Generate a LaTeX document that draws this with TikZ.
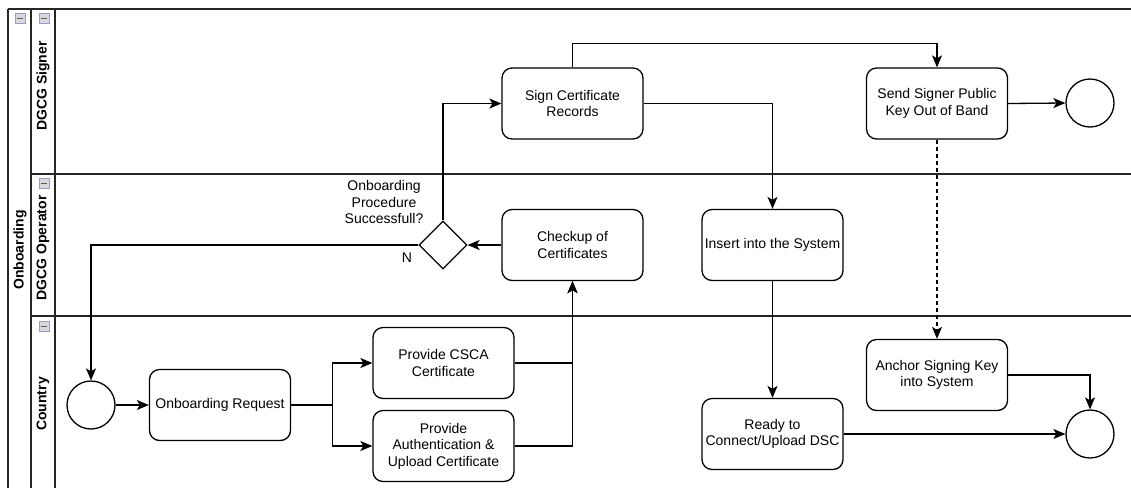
\documentclass[tikz,border=0pt]{standalone}
\usepackage{fontspec}
\setmainfont{Liberation Sans}
\usetikzlibrary{arrows.meta,shapes.geometric,calc}

\begin{document}
\begin{tikzpicture}[x=1pt,y=-1pt,
  line width=1.3pt,
  txt/.style={font=\fontsize{14}{16.5}\selectfont},
  task/.style={draw, rounded corners=10pt, minimum width=141pt, minimum height=71pt,
               align=center, inner sep=2pt, txt},
  event/.style={draw, circle, minimum size=48pt, inner sep=0pt},
  gate/.style={draw, diamond, minimum size=48pt, inner sep=0pt},
  flow/.style={-{Stealth[length=12pt,width=10pt,inset=3pt]}},
  msg/.style={flow, dashed, dash pattern=on 4pt off 3pt},
  poolline/.style={line width=1.3pt, draw=black!85},
  lanelabel/.style={rotate=90, font=\bfseries\fontsize{14}{16.5}\selectfont},
  collapse/.style={draw=gray!70!blue!60, fill=gray!30, line width=0.7pt,
                   minimum size=10pt, inner sep=0pt},
]
\useasboundingbox (0,0) rectangle (1131,488);

% pool and lane frame
\draw[poolline] (8,9) -- (1131,9);
\draw[poolline] (8,9) -- (8,488);
\draw[poolline] (31,9) -- (31,488);
\draw[poolline] (55,9) -- (55,488);
\draw[poolline] (31,174) -- (1131,174);
\draw[poolline] (31,316) -- (1131,316);

% header labels
\node[lanelabel] (poolname) at (20,250) {Onboarding};
\node[lanelabel] (lsigner) at (43,86) {DGCG Signer};
\node[lanelabel] (loperator) at (43,248) {DGCG Operator};
\node[lanelabel] (lcountry) at (43,404) {Country};

% collapse buttons
\foreach \name/\px/\py in {cpool/20/18, csigner/44/18, coperator/44/183, ccountry/44/326}{
  \node[collapse] (\name) at (\px,\py) {};
  \draw[black!65, line width=1pt] ($(\name.center)+(-3,0)$) -- ($(\name.center)+(3,0)$);
}

% DGCG Signer lane
\node[task] (sign) at (572.5,103.5) {Sign Certificate\\Records};
\node[task] (send) at (937,103.5) {Send Signer Public\\Key Out of Band};
\node[event] (endtop) at (1090,103) {};

% DGCG Operator lane
\node[task] (check) at (572.5,245) {Checkup of\\Certificates};
\node[task] (insert) at (772.5,245) {Insert into the System};
\node[gate] (gate) at (443,245) {};
\node[txt, align=center] (gatelabel) at (384,202) {Onboarding\\Procedure\\Successfull?};
\node[txt] (nlabel) at (407,258) {N};

% Country lane
\node[event] (start) at (91,405) {};
\node[task] (req) at (220,405) {Onboarding Request};
\node[task] (csca) at (443.5,363) {Provide CSCA\\Certificate};
\node[task] (auth) at (443.5,446) {Provide\\Authentication \&\\Upload Certificate};
\node[task] (ready) at (772.5,434) {Ready to\\Connect/Upload DSC};
\node[task] (anchor) at (937,375) {Anchor Signing Key\\into System};
\node[event] (endbot) at (1090,434) {};

% sequence flows
\draw[flow] (start) -- (req);
\draw[flow] (req.east) -- ++(41,0) |- (csca.west);
\draw[flow] (req.east) -- ++(41,0) |- (auth.west);
\draw[flow] (csca.east) -| (check.south);
\draw[flow] (auth.east) -| (check.south);
\draw[flow] (check.west) -- (gate.east);
\draw[flow] (gate.north) |- (sign.west);
\draw[flow] (gate.west) -| (start.north);
\draw[flow] (sign.east) -| (insert.north);
\draw[flow] (sign.north) -- ++(0,-24) -| (send.north);
\draw[flow] (send.east) -- (endtop.west);
\draw[msg] (send.south) -- (anchor.north);
\draw[flow] (insert.south) -- (ready.north);
\draw[flow] (ready.east) -- (endbot.west);
\draw[flow] (anchor.east) -| (endbot.north);
\end{tikzpicture}
\end{document}
